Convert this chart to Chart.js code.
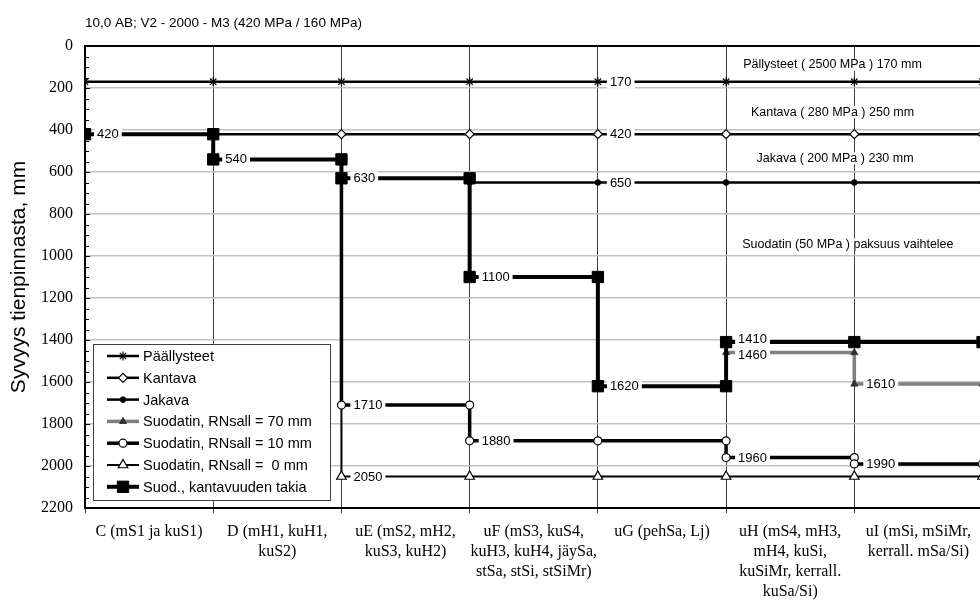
<!DOCTYPE html>
<html>
<head>
<meta charset="utf-8">
<script src="https://cdn.jsdelivr.net/npm/chart.js@4.4.0/dist/chart.umd.min.js"></script>
<style>
html, body { margin: 0; padding: 0; background: #fff; overflow: hidden; }
</style>
</head>
<body>
<canvas id="chart" width="980" height="601"></canvas>
<script>
const chartTitle = '10,0 AB; V2 - 2000 - M3 (420 MPa / 160 MPa)'
const yTitle = 'Syvyys tienpinnasta, mm'

// soil classes, one per column between the vertical lines
const categories = [
    ['C (mS1 ja kuS1)'],
    ['D (mH1, kuH1,', 'kuS2)'],
    ['uE (mS2, mH2,', 'kuS3, kuH2)'],
    ['uF (mS3, kuS4,', 'kuH3, kuH4, jäySa,', 'stSa, stSi, stSiMr)'],
    ['uG (pehSa, Lj)'],
    ['uH (mS4, mH3,', 'mH4, kuSi,', 'kuSiMr, kerrall.', 'kuSa/Si)'],
    ['uI (mSi, mSiMr,', 'kerrall. mSa/Si)']
]

const yMin = 0
const yMax = 2200
const yStep = 200

// layer depths, mm (x = column boundary index)
const paallysteetX = [0, 1, 2, 3, 4, 5, 6, 7]
const paallysteetY = [170, 170, 170, 170, 170, 170, 170, 170]
const paallysteetLabels = [4]

const kantavaX = [0, 1, 2, 3, 4, 5, 6, 7]
const kantavaY = [420, 420, 420, 420, 420, 420, 420, 420]
const kantavaLabels = [4]

const jakavaX = [3, 4, 5, 6, 7]
const jakavaY = [650, 650, 650, 650, 650]
const jakavaLabels = [1]

const rn70X = [5, 6, 6, 7]
const rn70Y = [1460, 1460, 1610, 1610]
const rn70Labels = [0, 2]

const rn10X = [2, 2, 3, 3, 4, 5, 5, 6, 6, 7]
const rn10Y = [630, 1710, 1710, 1880, 1880, 1880, 1960, 1960, 1990, 1990]
const rn10Labels = [1, 3, 6, 8]

const rn0X = [2, 2, 3, 4, 5, 6, 7]
const rn0Y = [1710, 2050, 2050, 2050, 2050, 2050, 2050]
const rn0Labels = [1]

const suodX = [0, 1, 1, 2, 2, 3, 3, 4, 4, 5, 5, 6, 7]
const suodY = [420, 420, 540, 540, 630, 630, 1100, 1100, 1620, 1620, 1410, 1410, 1410]
const suodLabels = [0, 2, 4, 6, 8, 10]

const notes = [
    'Pällysteet ( 2500 MPa ) 170 mm',
    'Kantava ( 280 MPa ) 250 mm',
    'Jakava ( 200 MPa ) 230 mm',
    'Suodatin (50 MPa ) paksuus vaihtelee'
]

const SANS = '"Liberation Sans", Arial, sans-serif'
const SERIF = '"Liberation Serif", "Times New Roman", serif'

const toPoints = (xs, ys) => xs.map((x, i) => ({x: x, y: ys[i]}))

const datasets = [
    {
        label: 'Päällysteet', data: toPoints(paallysteetX, paallysteetY), labelAt: paallysteetLabels,
        borderColor: '#000', borderWidth: 2.5, pointStyle: 'star', pointRadius: 4.5,
        pointBackgroundColor: '#000', pointBorderColor: '#000', pointBorderWidth: 1.2, order: 6
    },
    {
        label: 'Kantava', data: toPoints(kantavaX, kantavaY), labelAt: kantavaLabels,
        borderColor: '#000', borderWidth: 2.5, pointStyle: 'rectRot', pointRadius: 4.5,
        pointBackgroundColor: '#fff', pointBorderColor: '#000', pointBorderWidth: 1.2, order: 5
    },
    {
        label: 'Jakava', data: toPoints(jakavaX, jakavaY), labelAt: jakavaLabels,
        borderColor: '#000', borderWidth: 2.5, pointStyle: 'circle', pointRadius: 2.8,
        pointBackgroundColor: '#000', pointBorderColor: '#000', pointBorderWidth: 1, order: 4
    },
    {
        label: 'Suodatin, RNsall = 70 mm', data: toPoints(rn70X, rn70Y), labelAt: rn70Labels,
        borderColor: '#808080', borderWidth: 3.5, pointStyle: 'triangle', pointRadius: 4,
        pointBackgroundColor: '#333', pointBorderColor: '#333', pointBorderWidth: 1, order: 2
    },
    {
        label: 'Suodatin, RNsall = 10 mm', data: toPoints(rn10X, rn10Y), labelAt: rn10Labels,
        borderColor: '#000', borderWidth: 3.5, pointStyle: 'circle', pointRadius: 4,
        pointBackgroundColor: '#fff', pointBorderColor: '#000', pointBorderWidth: 1.2, order: 1
    },
    {
        label: 'Suodatin, RNsall =  0 mm', data: toPoints(rn0X, rn0Y), labelAt: rn0Labels,
        borderColor: '#000', borderWidth: 2, pointStyle: 'triangle', legendRadius: 5.5,
        pointRadius: ctx => ctx.dataIndex === 0 ? 0 : 5.5,
        pointBackgroundColor: '#fff', pointBorderColor: '#000', pointBorderWidth: 1.2, order: 3
    },
    {
        label: 'Suod., kantavuuden takia', data: toPoints(suodX, suodY), labelAt: suodLabels,
        borderColor: '#000', borderWidth: 4, pointStyle: 'rect', pointRadius: 8,
        pointBackgroundColor: '#000', pointBorderColor: '#000', pointBorderWidth: 1, order: 0
    }
]
datasets.forEach(ds => {
    ds.tension = 0
    ds.fill = false
    ds.borderJoinStyle = 'miter'
    ds.borderCapStyle = 'butt'
})

const drawMarker = (ctx, ds, x, y, radius) => {
    ctx.fillStyle = ds.pointBackgroundColor
    ctx.strokeStyle = ds.pointBorderColor
    ctx.lineWidth = ds.pointBorderWidth
    Chart.helpers.drawPoint(ctx, {pointStyle: ds.pointStyle, radius: radius, borderWidth: ds.pointBorderWidth, rotation: 0}, x, y)
}

const overlay = {
    id: 'overlay',
    afterDatasetsDraw(chart) {
        const ctx = chart.ctx
        const xs = chart.scales.x
        const ys = chart.scales.y

        // value labels, white box so the line breaks behind them
        const items = []
        chart.data.datasets.forEach(ds => {
            ds.labelAt.forEach(i => {
                const p = ds.data[i]
                items.push({x: xs.getPixelForValue(p.x), y: ys.getPixelForValue(p.y), text: String(p.y)})
            })
        })
        items.sort((a, b) => a.x - b.x || a.y - b.y)
        for (let i = 1; i < items.length; i++) {
            const a = items[i - 1], b = items[i]
            if (Math.abs(a.x - b.x) < 1 && b.y - a.y < 16) {
                const m = (a.y + b.y) / 2
                a.y = m - 8
                b.y = m + 8
            }
        }
        ctx.save()
        ctx.font = '13px ' + SANS
        ctx.textBaseline = 'middle'
        items.forEach(it => {
            const w = ctx.measureText(it.text).width
            ctx.fillStyle = '#fff'
            ctx.fillRect(it.x + 9, it.y - 7, w + 6, 14)
            ctx.fillStyle = '#000'
            ctx.fillText(it.text, it.x + 12, it.y + 0.5)
        })
        ctx.restore()
    },
    afterDraw(chart) {
        const ctx = chart.ctx
        const area = chart.chartArea
        const xs = chart.scales.x
        const ys = chart.scales.y
        ctx.save()

        // top frame line
        ctx.strokeStyle = '#000'
        ctx.lineWidth = 2
        ctx.beginPath()
        ctx.moveTo(area.left, area.top)
        ctx.lineTo(area.right, area.top)
        ctx.stroke()

        // inside tick marks on the depth axis
        ctx.lineWidth = 1
        for (let v = yMin; v <= yMax; v += 50) {
            const py = Math.round(ys.getPixelForValue(v)) + 0.5
            ctx.beginPath()
            ctx.moveTo(area.left, py)
            ctx.lineTo(area.left + (v % yStep === 0 ? 5 : 4), py)
            ctx.stroke()
        }

        // title
        ctx.fillStyle = '#000'
        ctx.font = '13.5px ' + SANS
        ctx.textBaseline = 'middle'
        ctx.textAlign = 'left'
        ctx.fillText(chartTitle, area.left, 23)

        // layer notes
        const noteAt = [[5.83, 90], [5.83, 315], [5.85, 535], [5.95, 945]]
        ctx.font = '12.5px ' + SANS
        ctx.textAlign = 'center'
        notes.forEach((t, i) => {
            const px = xs.getPixelForValue(noteAt[i][0])
            const py = ys.getPixelForValue(noteAt[i][1])
            const w = ctx.measureText(t).width
            ctx.fillStyle = '#fff'
            ctx.fillRect(px - w / 2 - 2, py - 6, w + 4, 12)
            ctx.fillStyle = '#000'
            ctx.fillText(t, px, py)
        })

        // legend box
        const lx = area.left + 8
        const ly = 344
        ctx.fillStyle = '#fff'
        ctx.fillRect(lx, ly, 237, 156)
        ctx.strokeStyle = '#404040'
        ctx.lineWidth = 1
        ctx.strokeRect(lx + 0.5, ly + 0.5, 237, 156)
        ctx.font = '14.5px ' + SANS
        ctx.textAlign = 'left'
        chart.data.datasets.forEach((ds, i) => {
            const cy = ly + 12 + i * 21.8
            ctx.strokeStyle = ds.borderColor
            ctx.lineWidth = ds.borderWidth
            ctx.beginPath()
            ctx.moveTo(lx + 14, cy)
            ctx.lineTo(lx + 46, cy)
            ctx.stroke()
            drawMarker(ctx, ds, lx + 30, cy, ds.legendRadius || ds.pointRadius)
            ctx.fillStyle = '#000'
            ctx.fillText(ds.label, lx + 50, cy + 1)
        })
        ctx.restore()
    }
}

new Chart(document.getElementById('chart'), {
    type: 'line',
    data: {datasets: datasets},
    options: {
        responsive: false,
        animation: false,
        layout: {padding: {top: 46, left: 0, right: 0, bottom: 0}, autoPadding: false},
        plugins: {
            legend: {display: false},
            tooltip: {enabled: false},
            title: {display: false}
        },
        scales: {
            x: {
                type: 'linear',
                min: 0,
                max: 6.98,
                afterBuildTicks: scale => {
                    const t = []
                    for (let v = 0; v <= categories.length - 0.5; v += 0.5) t.push({value: v})
                    scale.ticks = t
                },
                afterFit: scale => { scale.height = 93 },
                grid: {
                    color: ctx => Number.isInteger(ctx.tick.value) ? '#404040' : 'rgba(0,0,0,0)',
                    lineWidth: 1,
                    tickLength: 5
                },
                border: {color: '#000', width: 2},
                ticks: {
                    autoSkip: false,
                    maxRotation: 0,
                    padding: 9,
                    color: '#000',
                    font: {family: SERIF, size: 16, lineHeight: 1.25},
                    callback: v => Number.isInteger(v) ? '' : categories[Math.floor(v)]
                }
            },
            y: {
                reverse: true,
                min: yMin,
                max: yMax,
                afterFit: scale => { scale.width = 85 },
                ticks: {stepSize: yStep, padding: 12, color: '#000', font: {family: SERIF, size: 16}, callback: v => String(v)},
                grid: {color: '#c0c0c0', lineWidth: 1.5, drawTicks: false},
                border: {color: '#000', width: 2},
                title: {display: true, text: yTitle, color: '#000', font: {family: SANS, size: 21}, padding: {top: 7, bottom: 0}}
            }
        }
    },
    plugins: [overlay]
})
</script>
</body>
</html>
